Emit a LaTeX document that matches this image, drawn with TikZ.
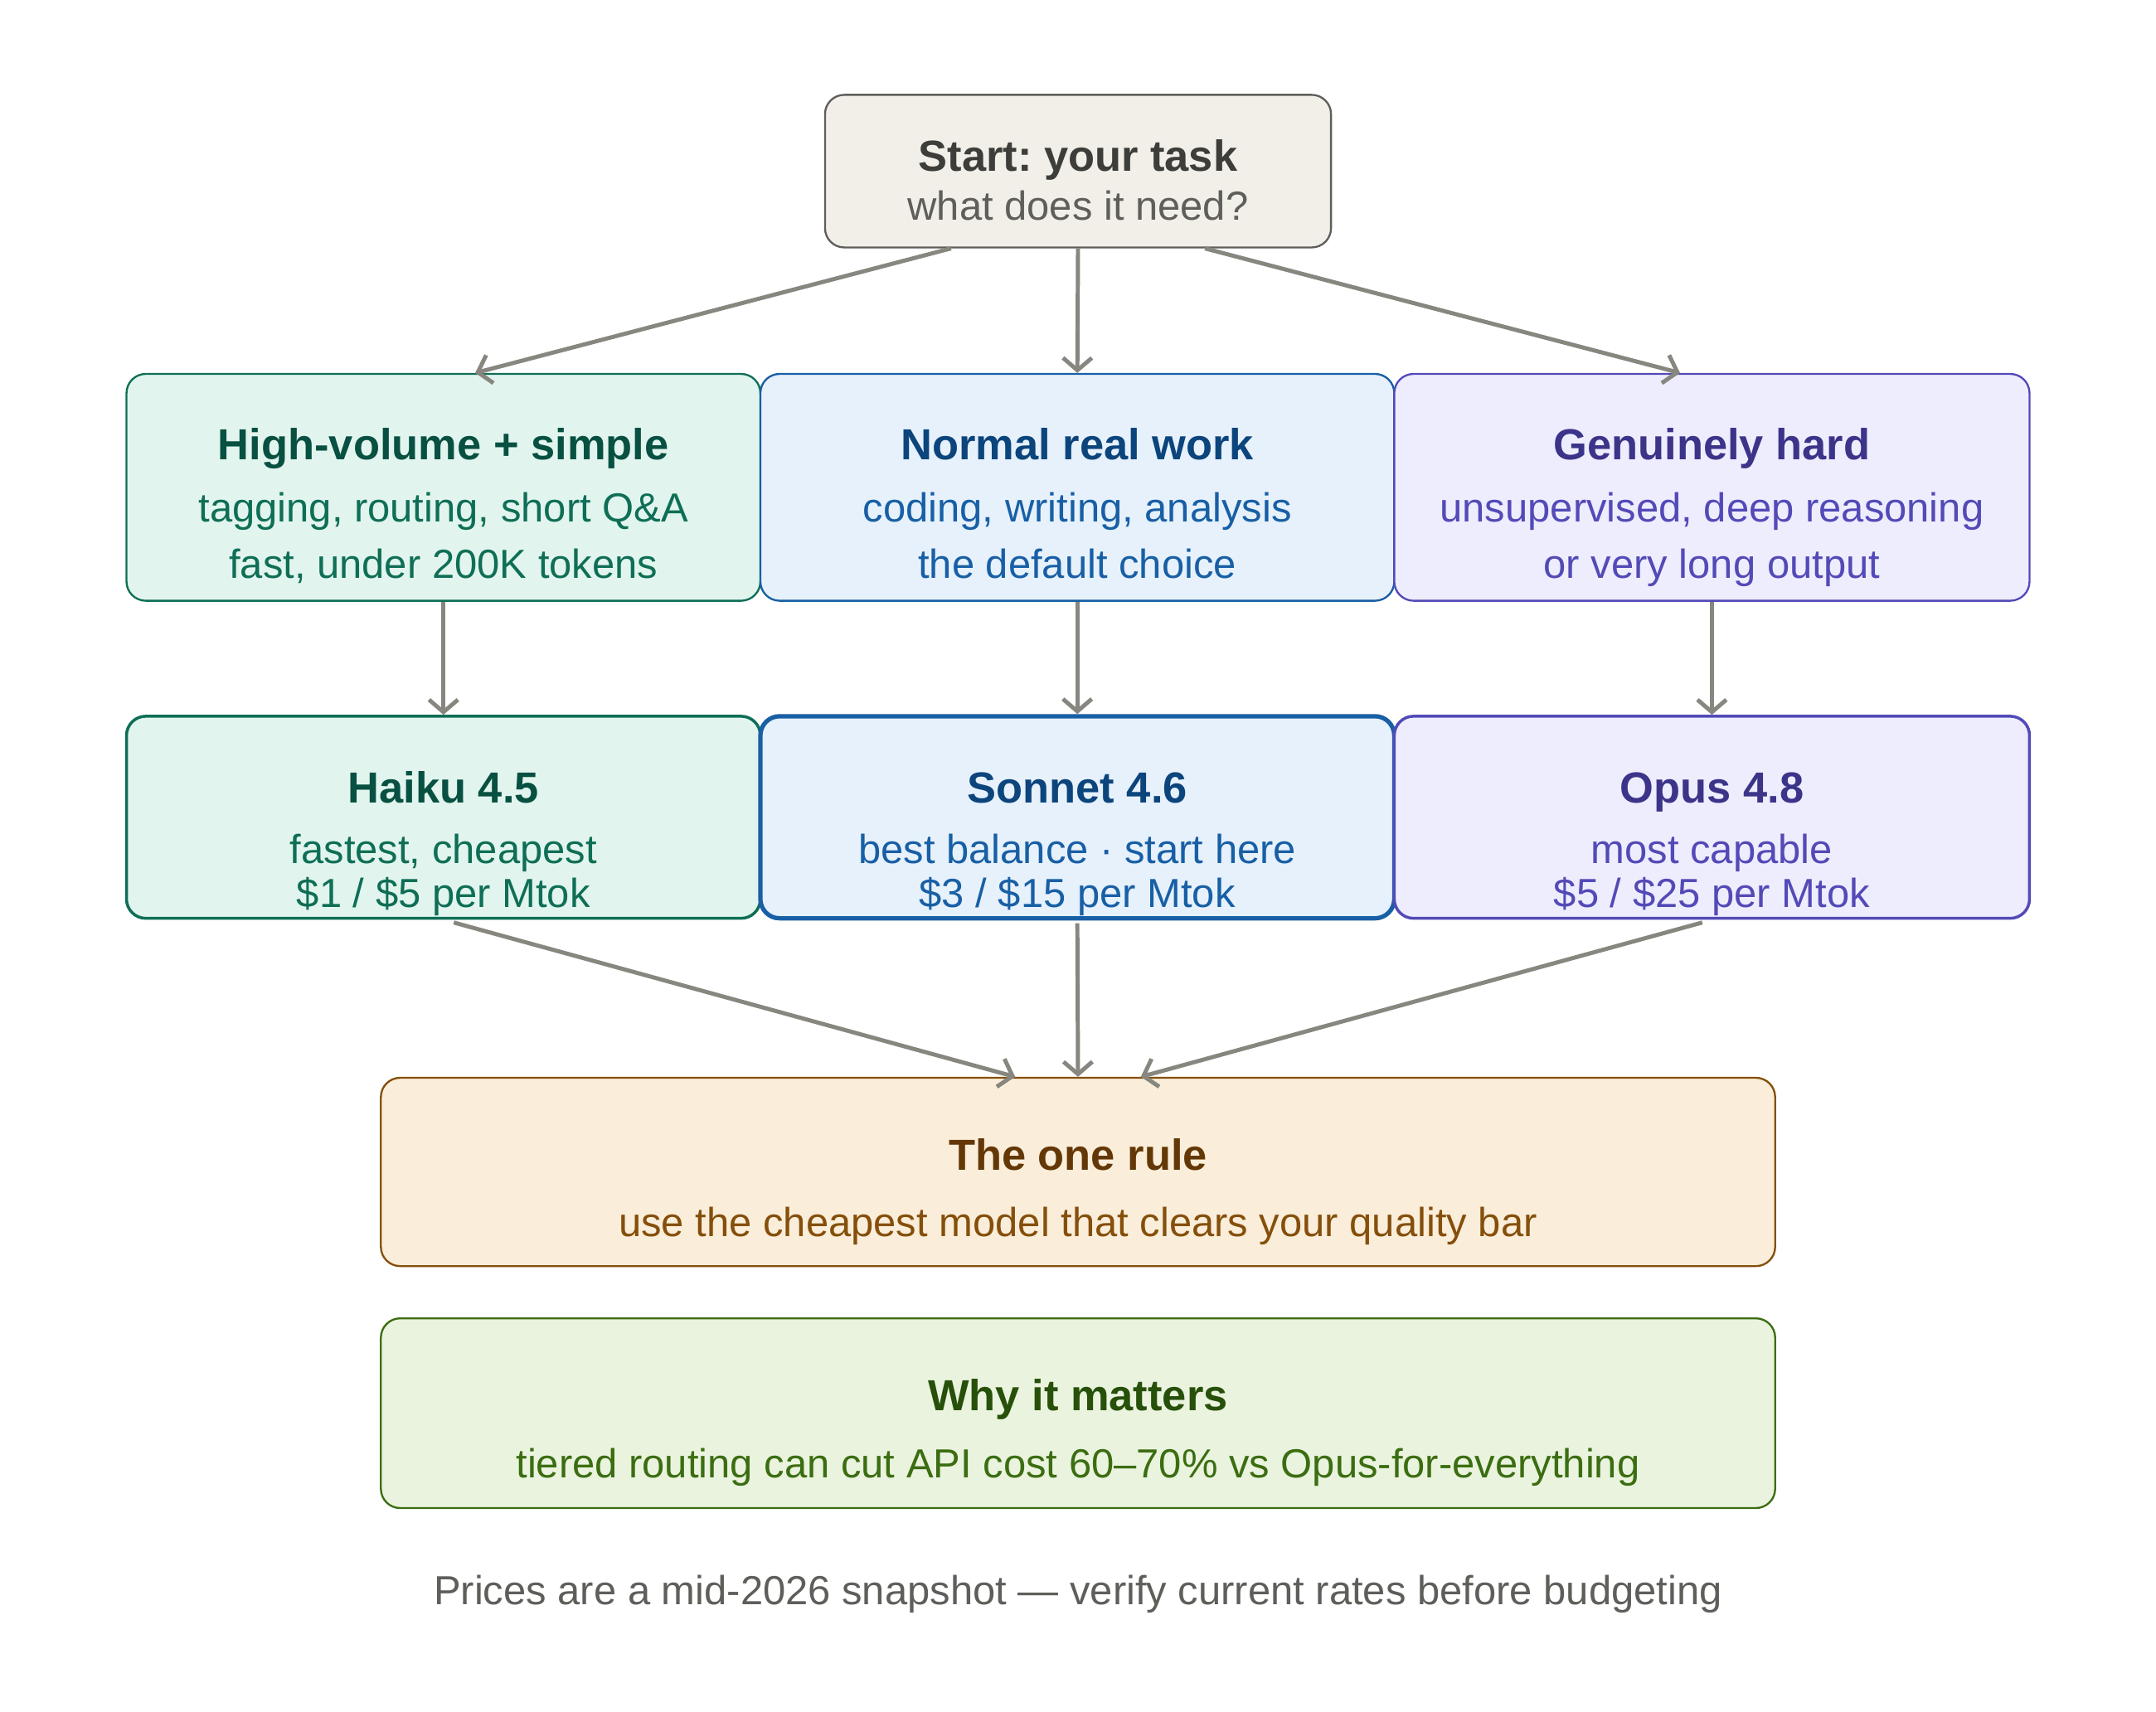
\documentclass[tikz,border=0pt]{standalone}
\usepackage{fontspec}
\setmainfont{Liberation Sans}
\frenchspacing
\usetikzlibrary{calc, positioning, arrows.meta}

\definecolor{linkgray}{HTML}{87867F}
\definecolor{stfill}{HTML}{F1EFE8}
\definecolor{stdraw}{HTML}{5F5E5A}
\definecolor{sttext}{HTML}{3D3D3A}
\definecolor{gnfill}{HTML}{E1F5EE}
\definecolor{gndraw}{HTML}{0F6E56}
\definecolor{gntext}{HTML}{085041}
\definecolor{blfill}{HTML}{E6F1FB}
\definecolor{bldraw}{HTML}{185FA5}
\definecolor{bltext}{HTML}{0C447C}
\definecolor{pufill}{HTML}{EEEDFE}
\definecolor{pudraw}{HTML}{534AB7}
\definecolor{putext}{HTML}{3C3489}
\definecolor{amfill}{HTML}{FAEEDA}
\definecolor{amdraw}{HTML}{854F0B}
\definecolor{amtext}{HTML}{633806}
\definecolor{lgfill}{HTML}{EAF3DE}
\definecolor{lgdraw}{HTML}{3B6D11}
\definecolor{lgtext}{HTML}{27500A}

\tikzset{
  box/.style={draw, rounded corners=0.14cm, inner sep=0pt, line width=0.4pt},
  ttl/.style={font=\fontsize{9}{11}\selectfont\bfseries, anchor=base, inner sep=0pt},
  sub/.style={font=\fontsize{8.4}{10}\selectfont, anchor=base, inner sep=0pt},
  link/.style={draw=linkgray, line width=0.85pt, -{Straight Barb[length=0.9mm,width=2.1mm]}},
}

\begin{document}
\begin{tikzpicture}
\fill[white] (0,0) rectangle (15.68,-12.45);
\useasboundingbox (0,0) rectangle (15.68,-12.45);

% start
\node[box, fill=stfill, draw=stdraw, minimum width=3.68cm, minimum height=1.11cm] (start) at (7.84,-1.245) {};
\node[ttl, text=sttext] (startT) at (7.84,-1.246) {Start: your task};
\node[sub, text=stdraw] (startA) at (7.84,-1.604) {what does it need?};

% kind of task
\node[box, fill=gnfill, draw=gndraw, minimum width=4.61cm, minimum height=1.65cm] (hv) at (3.225,-3.545) {};
\node[ttl, text=gntext] (hvT) at (3.225,-3.347) {High-volume + simple};
\node[sub, text=gndraw] (hvA) at (3.225,-3.796) {tagging, routing, short Q\&A};
\node[sub, text=gndraw] (hvB) at (3.225,-4.208) {fast, under 200K tokens};

\node[box, fill=blfill, draw=bldraw, minimum width=4.61cm, minimum height=1.65cm] (nw) at (7.835,-3.545) {};
\node[ttl, text=bltext] (nwT) at (7.835,-3.347) {Normal real work};
\node[sub, text=bldraw] (nwA) at (7.835,-3.796) {coding, writing, analysis};
\node[sub, text=bldraw] (nwB) at (7.835,-4.208) {the default choice};

\node[box, fill=pufill, draw=pudraw, minimum width=4.62cm, minimum height=1.65cm] (gh) at (12.45,-3.545) {};
\node[ttl, text=putext] (ghT) at (12.45,-3.347) {Genuinely hard};
\node[sub, text=pudraw] (ghA) at (12.45,-3.796) {unsupervised, deep reasoning};
\node[sub, text=pudraw] (ghB) at (12.45,-4.208) {or very long output};

% models
\node[box, fill=gnfill, draw=gndraw, line width=0.6pt, minimum width=4.61cm, minimum height=1.47cm] (haiku) at (3.225,-5.945) {};
\node[ttl, text=gntext] (haikuT) at (3.225,-5.84) {Haiku 4.5};
\node[sub, text=gndraw] (haikuA) at (3.225,-6.279) {fastest, cheapest};
\node[sub, text=gndraw] (haikuB) at (3.225,-6.60) {\$1 / \$5 per Mtok};

\node[box, fill=blfill, draw=bldraw, line width=0.9pt, minimum width=4.61cm, minimum height=1.47cm] (sonnet) at (7.835,-5.945) {};
\node[ttl, text=bltext] (sonnetT) at (7.835,-5.84) {Sonnet 4.6};
\node[sub, text=bldraw] (sonnetA) at (7.835,-6.279) {best balance · start here};
\node[sub, text=bldraw] (sonnetB) at (7.835,-6.60) {\$3 / \$15 per Mtok};

\node[box, fill=pufill, draw=pudraw, line width=0.6pt, minimum width=4.62cm, minimum height=1.47cm] (opus) at (12.45,-5.945) {};
\node[ttl, text=putext] (opusT) at (12.45,-5.84) {Opus 4.8};
\node[sub, text=pudraw] (opusA) at (12.45,-6.279) {most capable};
\node[sub, text=pudraw] (opusB) at (12.45,-6.60) {\$5 / \$25 per Mtok};

% bottom
\node[box, fill=amfill, draw=amdraw, minimum width=10.14cm, minimum height=1.37cm] (rule) at (7.84,-8.525) {};
\node[ttl, text=amtext] (ruleT) at (7.84,-8.514) {The one rule};
\node[sub, text=amdraw] (ruleA) at (7.84,-8.997) {use the cheapest model that clears your quality bar};

\node[box, fill=lgfill, draw=lgdraw, minimum width=10.14cm, minimum height=1.38cm] (why) at (7.84,-10.28) {};
\node[ttl, text=lgtext] (whyT) at (7.84,-10.263) {Why it matters};
\node[sub, text=lgdraw] (whyA) at (7.84,-10.752) {tiered routing can cut API cost 60–70\% vs Opus-for-everything};

\node[sub, text=stdraw] (note) at (7.84,-11.67) {Prices are a mid-2026 snapshot — verify current rates before budgeting};

% connectors
\draw[link] ($(start.south west)!0.25!(start.south east)$) -- ($(hv.north west)!0.55!(hv.north east)$);
\draw[link] (start.south) -- (nw.north);
\draw[link] ($(start.south west)!0.75!(start.south east)$) -- ($(gh.north west)!0.45!(gh.north east)$);

\draw[link] (hv.south) -- (haiku.north);
\draw[link] (nw.south) -- (sonnet.north);
\draw[link] (gh.south) -- (opus.north);

\draw[link] ($(haiku.south)+(0.075,-0.02)$) -- ($(rule.north west)!0.455!(rule.north east)$);
\draw[link] ($(sonnet.south)+(0,-0.02)$) -- (rule.north);
\draw[link] ($(opus.south)+(-0.07,-0.02)$) -- ($(rule.north west)!0.545!(rule.north east)$);
\end{tikzpicture}
\end{document}
